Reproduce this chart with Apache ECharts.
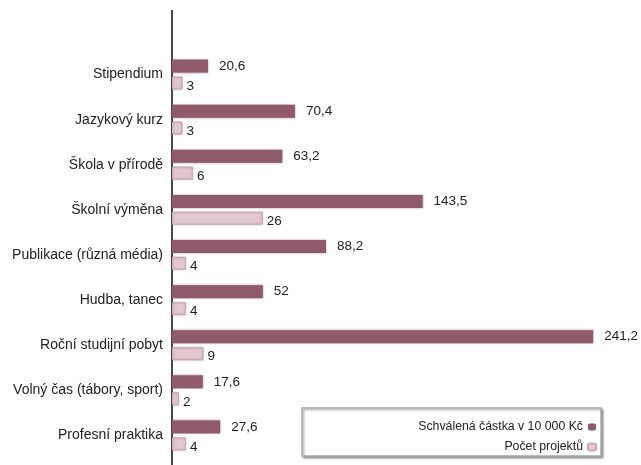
<!DOCTYPE html>
<html>
<head>
<meta charset="utf-8">
<script src="https://cdn.jsdelivr.net/npm/echarts@6/dist/echarts.min.js"></script>
<style>
  html, body { margin: 0; padding: 0; background: #fff; }
  #main { width: 641px; height: 465px; }
</style>
</head>
<body>
<div id="main"></div>
<script>
const chart = echarts.init(document.querySelector('#main'));

// data
const categories = ['Stipendium', 'Jazykový kurz', 'Škola v přírodě', 'Školní výměna',
    'Publikace (různá média)', 'Hudba, tanec', 'Roční studijní pobyt',
    'Volný čas (tábory, sport)', 'Profesní praktika'];
const castka = [20.6, 70.4, 63.2, 143.5, 88.2, 52, 241.2, 17.6, 27.6];
const projekty = [3, 3, 6, 26, 4, 4, 9, 2, 4];
const seriesNames = ['Schválená částka v 10 000 Kč', 'Počet projektů'];

const font = "'Liberation Sans', Arial, sans-serif";
const comma = (p) => String(p.value).replace('.', ',');

let option = {
    animation: false,
    textStyle: { fontFamily: font },
    grid: { left: 172, right: 15, top: 52, bottom: 7, outerBoundsMode: 'none', containLabel: false },
    legend: {
        orient: 'vertical',
        right: 44,
        top: 421,
        align: 'right',
        padding: 0,
        itemGap: 8,
        itemWidth: 8,
        itemHeight: 7,
        textStyle: { fontFamily: font, fontSize: 12.3, color: '#222' },
        data: seriesNames
    },
    xAxis: [
        { type: 'value', min: 0, max: 260, show: false },
        { type: 'value', min: 0, max: 130, show: false }
    ],
    yAxis: {
        type: 'category',
        inverse: true,
        data: categories,
        axisTick: { show: false },
        axisLine: { lineStyle: { color: '#4a4a4a', width: 2 } },
        axisLabel: { fontFamily: font, fontSize: 14, color: '#222', margin: 9 }
    },
    graphic: [
        {
            type: 'line',
            shape: { x1: 172, y1: 10, x2: 172, y2: 465 },
            style: { stroke: '#4a4a4a', lineWidth: 2 }
        },
        {
            type: 'rect',
            shape: { x: 302, y: 408, width: 299, height: 48 },
            style: {
                fill: '#fff', stroke: '#a8a8a8', lineWidth: 1.5,
                shadowBlur: 2, shadowOffsetX: 1.5, shadowOffsetY: 1.5,
                shadowColor: 'rgba(0,0,0,0.35)'
            },
            z: -1
        }
    ],
    series: [
        {
            name: seriesNames[0],
            type: 'bar',
            xAxisIndex: 0,
            data: castka,
            barWidth: 13,
            barGap: '30%',
            itemStyle: {
                color: '#8f5a69',
                shadowBlur: 2,
                shadowColor: 'rgba(90,40,55,0.5)'
            },
            label: {
                show: true, position: 'right', distance: 11,
                fontFamily: font, fontSize: 13.5, color: '#222',
                formatter: comma
            }
        },
        {
            name: seriesNames[1],
            type: 'bar',
            xAxisIndex: 1,
            data: projekty,
            barWidth: 13,
            itemStyle: {
                color: '#e2c8cf',
                borderColor: '#c7adb4',
                borderWidth: 1,
                shadowBlur: 2,
                shadowColor: 'rgba(90,40,55,0.3)'
            },
            label: {
                show: true, position: 'right', distance: 4, offset: [0, 3],
                fontFamily: font, fontSize: 13.5, color: '#222',
                formatter: comma
            }
        }
    ]
};

chart.setOption(option);
</script>
</body>
</html>
